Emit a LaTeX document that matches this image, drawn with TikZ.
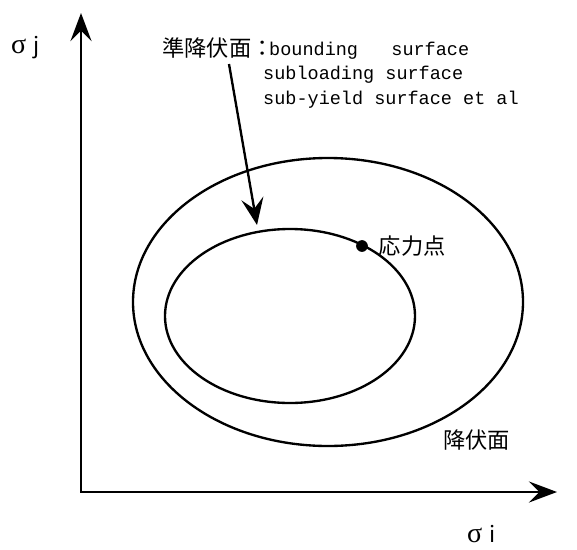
\documentclass[tikz,border=0pt]{standalone}
\usepackage{fontspec}
\setmonofont{Liberation Mono}
\newfontfamily\jpfont{Noto Sans CJK JP}
\newfontfamily\grfont{Liberation Serif}
\usetikzlibrary{arrows.meta,positioning}

\tikzstyle{jp} = [font=\jpfont\fontsize{19pt}{19pt}\selectfont, inner sep=0pt]
\tikzstyle{eng} = [font=\ttfamily\fontsize{15.8pt}{20pt}\selectfont, inner sep=0pt, anchor=base west]
\tikzstyle{surf} = [line width=2pt]
\tikzstyle{axis} = [line width=2pt, {Stealth[length=24pt,width=18pt,inset=9pt]}-{Stealth[length=24pt,width=18pt,inset=9pt]}]
\tikzstyle{pointer} = [line width=2pt, -{Stealth[length=23pt,width=19pt,inset=9pt]}]
\tikzstyle{spoint} = [circle, fill, inner sep=0pt, minimum size=10pt]

\newcommand{\sgm}{{\grfont\fontsize{24pt}{24pt}\selectfont σ}}

\begin{document}
\begin{tikzpicture}[x=0.03cm, y=-0.03cm]
\useasboundingbox (0,0) rectangle (577,550);

\coordinate (O) at (81,492);
\coordinate (ytip) at (81,13);
\coordinate (xtip) at (557,492);
\draw[axis] (ytip) -- (O) -- (xtip);

\node[jp, anchor=base west] (sj) at (11,53) {\sgm\hspace{6pt}j};
\node[jp, anchor=base west] (si) at (467,542) {\sgm\hspace{6pt}i};

\draw[surf] (328,302) ellipse [x radius=195, y radius=144];
\draw[surf] (290,316) ellipse [x radius=125, y radius=87];

\node[jp, anchor=west] (quasi) at (162,48) {準降伏面：};
\node[eng] (bnd) at (269,55) {bounding\ \ \ surface};
\node[eng] (subl) at (263,79) {subloading surface};
\node[eng] (suby) at (263,104) {sub-yield surface et al};

\coordinate (from) at (229,64);
\coordinate (tip) at (257,225);
\draw[pointer] (from) -- (tip);

\node[spoint] (spt) at (362,246) {};
\node[jp, right=9pt of spt] (sptlbl) {応力点};

\node[jp, anchor=west] (yield) at (443,440) {降伏面};
\end{tikzpicture}
\end{document}
